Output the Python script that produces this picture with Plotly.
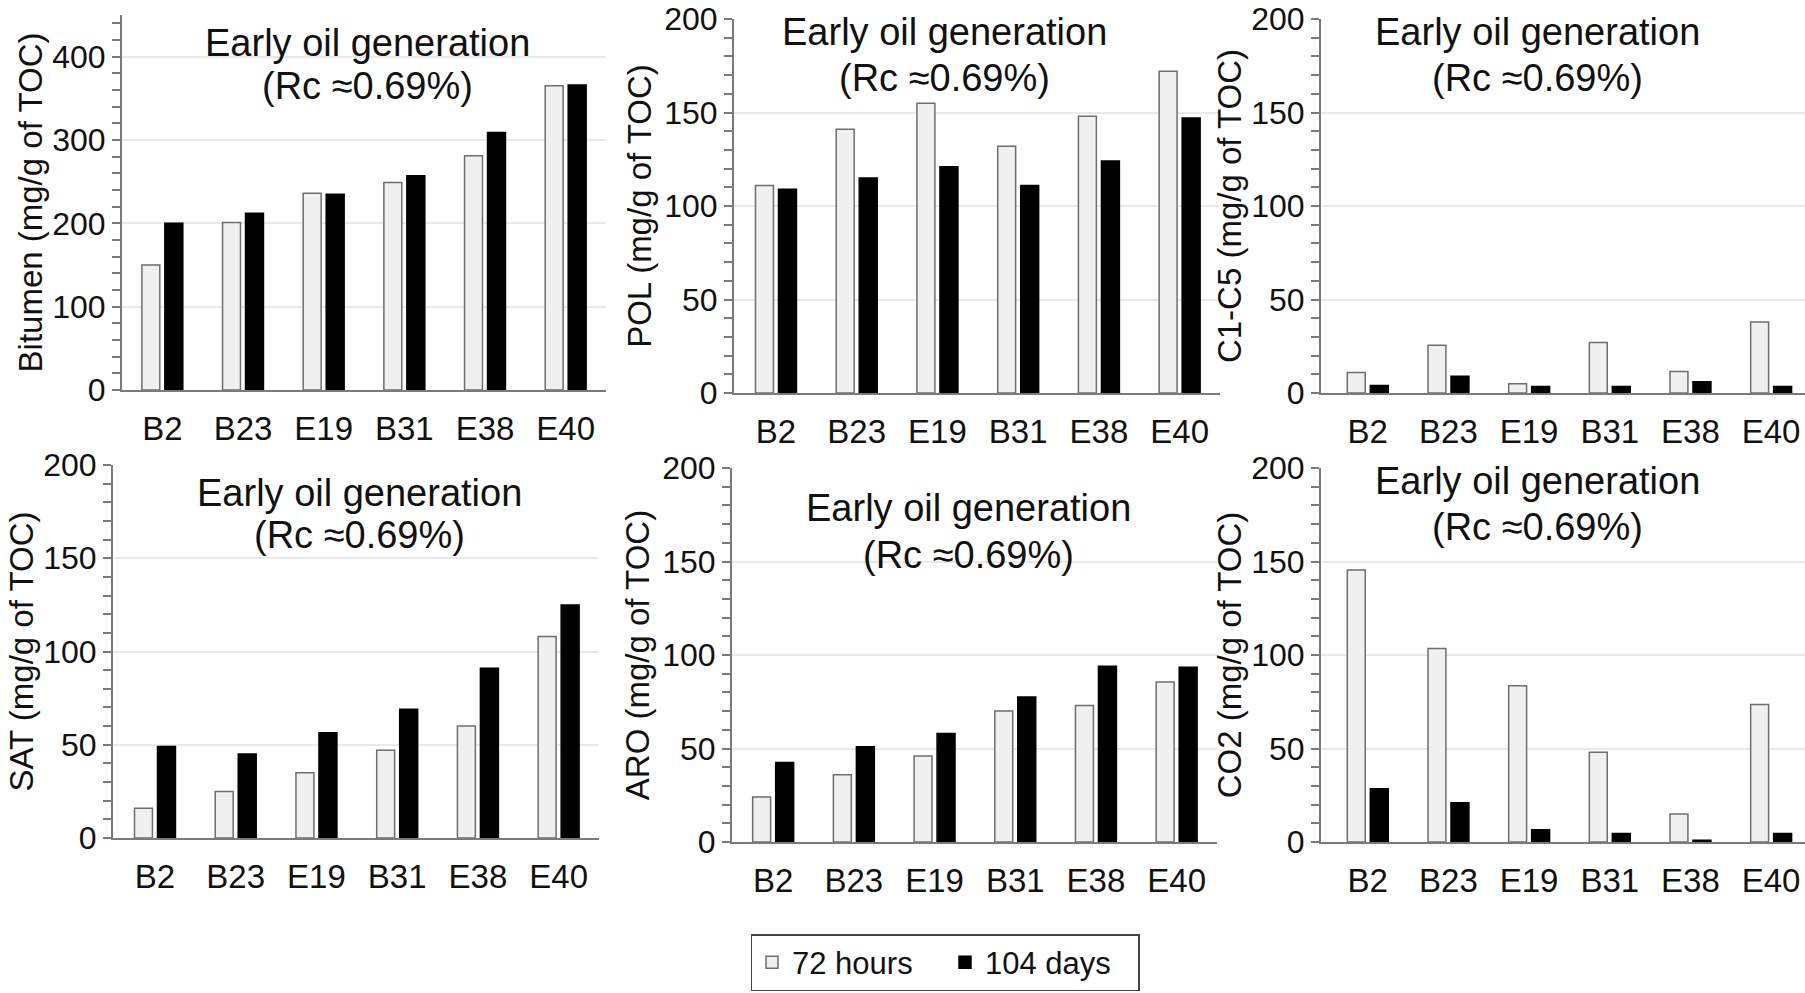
import plotly.graph_objects as go

# ---------------- data ----------------
samples = ["B2", "B23", "E19", "B31", "E38", "E40"]
series_names = ["72 hours", "104 days"]

bitumen_72h = [150, 201, 236, 249, 281, 365]
bitumen_104d = [200, 212, 235, 257, 309, 366]
pol_72h = [111, 141, 155, 132, 148, 172]
pol_104d = [109, 115, 121, 111, 124, 147]
c1c5_72h = [11, 25.5, 5, 27, 11.5, 38]
c1c5_104d = [4, 9, 3.5, 3.5, 6, 3.5]
sat_72h = [16, 25, 35, 47, 60, 108]
sat_104d = [49, 45, 56.5, 69, 91, 125]
aro_72h = [24, 36, 46, 70, 73, 85.5]
aro_104d = [42.5, 51, 58, 77.5, 94, 93.5]
co2_72h = [145.5, 103.5, 83.5, 48, 15, 73.5]
co2_104d = [28.5, 21, 6.5, 4.5, 1, 4.5]

y_titles = ["Bitumen (mg/g of TOC)", "POL (mg/g of TOC)", "C1-C5 (mg/g of TOC)",
            "SAT (mg/g of TOC)", "ARO (mg/g of TOC)", "CO2 (mg/g of TOC)"]
y_max = [450, 200, 200, 200, 200, 200]
y_major = [100, 50, 50, 50, 50, 50]
y_minor = [20, 10, 10, 10, 10, 10]
note_line1 = "Early oil generation"
note_line2 = "(Rc \u22480.69%)"

values = [(bitumen_72h, bitumen_104d), (pol_72h, pol_104d), (c1c5_72h, c1c5_104d),
          (sat_72h, sat_104d), (aro_72h, aro_104d), (co2_72h, co2_104d)]

# ---------------- layout geometry (pixels in a 1805x993 canvas) ----------------
W, H = 1805, 993
# (x_left, x_right, y_top, y_bottom) of each plot area
boxes = [(122, 606, 15, 390), (734, 1220, 19, 393), (1321, 1805, 19, 393),
         (113, 599, 465, 838), (732, 1217, 468, 842), (1321, 1805, 468, 842)]
# category-axis ranges (right column is cut by the image edge)
x_ranges = [[-0.5, 5.5], [-0.52, 5.5], [-0.58, 5.42],
            [-0.52, 5.5], [-0.51, 5.5], [-0.58, 5.42]]
title_standoff = [0, 3, 0, 0, 3, 0]
# centres of the two note lines in each panel: (x, y_line1, y_line2)
notes = [(367, 43, 86), (944, 32, 78), (1537, 32, 78),
         (359, 493, 535), (968, 508, 555), (1537, 481, 527)]

FONT = "Arial, Liberation Sans, sans-serif"
AXIS_COL = "#7a7a7a"
GRID_COL = "#e9e9e9"

fig = go.Figure()
layout = dict(
    width=W, height=H, margin=dict(l=0, r=0, t=0, b=0, autoexpand=False),
    paper_bgcolor="white", plot_bgcolor="white",
    barmode="group", bargap=0.43, bargroupgap=0.22,
    font=dict(family=FONT, size=30, color="#111111"),
    showlegend=True,
    legend=dict(orientation="h", x=945 / W, xanchor="center",
                y=(H - 991) / H, yanchor="bottom",
                bordercolor="#444444", borderwidth=1.5,
                font=dict(family=FONT, size=31, color="#111111"),
                itemwidth=30, entrywidth=148, traceorder="normal", bgcolor="white"),
    annotations=[],
)

for i in range(6):
    xl, xr, yt, yb = boxes[i]
    xa = "x" if i == 0 else f"x{i+1}"
    ya = "y" if i == 0 else f"y{i+1}"
    s72, s104 = values[i]
    fig.add_trace(go.Bar(x=samples, y=s72, name=series_names[0], xaxis=xa, yaxis=ya,
                         marker=dict(color="#f0f0f0", line=dict(color="#6e6e6e", width=1.5)),
                         showlegend=(i == 0), legendgroup="a"))
    fig.add_trace(go.Bar(x=samples, y=s104, name=series_names[1], xaxis=xa, yaxis=ya,
                         marker=dict(color="#000000", line=dict(color="#000000", width=1.5)),
                         showlegend=(i == 0), legendgroup="b"))
    xkey = "xaxis" if i == 0 else f"xaxis{i+1}"
    ykey = "yaxis" if i == 0 else f"yaxis{i+1}"
    layout[xkey] = dict(domain=[xl / W, xr / W], anchor=ya, showline=True,
                        range=x_ranges[i],
                        linecolor=AXIS_COL, linewidth=2, ticks="", showgrid=False,
                        tickfont=dict(size=33), ticklabelstandoff=8, fixedrange=True,
                        automargin=False)
    layout[ykey] = dict(domain=[(H - yb) / H, (H - yt) / H], anchor=xa,
                        range=[0, y_max[i]], dtick=y_major[i], tick0=0,
                        showline=True, linecolor=AXIS_COL, linewidth=2,
                        ticks="outside", ticklen=8, tickcolor=AXIS_COL, tickwidth=1.5,
                        showgrid=True, gridcolor=GRID_COL, gridwidth=1.5,
                        minor=dict(dtick=y_minor[i], tick0=0, ticks="outside", ticklen=8,
                                   tickcolor=AXIS_COL, tickwidth=1.5, showgrid=False),
                        zeroline=False, tickfont=dict(size=32), ticklabelstandoff=0,
                        title=dict(text=y_titles[i], font=dict(size=33),
                                   standoff=title_standoff[i]),
                        fixedrange=True, automargin=False)
    nx, ny1, ny2 = notes[i]
    for txt, ny in ((note_line1, ny1), (note_line2, ny2)):
        layout["annotations"].append(dict(text=txt, x=nx / W, y=1 - ny / H,
                                          xref="paper", yref="paper", showarrow=False,
                                          xanchor="center", yanchor="middle", align="center",
                                          font=dict(family=FONT, size=38, color="#111111")))

fig.update_layout(**layout)
fig.write_html("out.html", config={"displayModeBar": False},
               post_script="document.body.style.margin='0';document.body.style.overflow='hidden';")
